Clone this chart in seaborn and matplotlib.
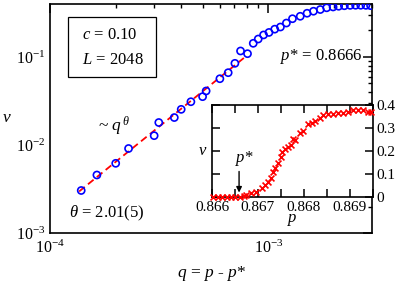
import numpy as np
import pandas as pd
import matplotlib
matplotlib.use("Agg")
import matplotlib.pyplot as plt
import matplotlib.ticker as mticker
from matplotlib.patches import Rectangle
import seaborn as sns

# ---------------- data ----------------
q_main = [1.39e-4, 1.64e-4, 2.00e-4, 2.29e-4, 3.00e-4, 3.15e-4, 3.71e-4, 3.99e-4,
          4.42e-4, 5.00e-4, 5.19e-4, 6.00e-4, 6.55e-4, 7.03e-4, 7.46e-4, 8.03e-4,
          8.53e-4, 8.99e-4, 9.51e-4, 1.007e-3, 1.07e-3, 1.136e-3, 1.21e-3, 1.29e-3,
          1.40e-3, 1.505e-3, 1.61e-3, 1.73e-3, 1.85e-3, 1.98e-3, 2.10e-3, 2.23e-3,
          2.37e-3, 2.51e-3, 2.65e-3, 2.80e-3, 2.94e-3]
v_main = [3.04e-3, 4.56e-3, 6.19e-3, 9.12e-3, 1.276e-2, 1.80e-2, 2.05e-2, 2.54e-2,
          3.10e-2, 3.54e-2, 4.11e-2, 5.66e-2, 6.63e-2, 8.47e-2, 0.117, 0.109,
          0.143, 0.160, 0.178, 0.190, 0.207, 0.219, 0.243, 0.272,
          0.290, 0.314, 0.331, 0.346, 0.362, 0.370, 0.377, 0.382,
          0.386, 0.387, 0.387, 0.386, 0.383]

theta = 2.01
fit_q_range = [1.36e-4, 7.85e-4]
fit_anchor_q = 1.39e-4
fit_anchor_v = 3.1e-3

p_in = [0.86602, 0.86612, 0.86622, 0.86632, 0.86641, 0.86651, 0.86661, 0.86670,
        0.86675, 0.86686, 0.86697, 0.86708, 0.86715, 0.86722, 0.86728, 0.86733,
        0.86737, 0.86743, 0.86750, 0.86753, 0.86759, 0.86766, 0.86773, 0.86777,
        0.86780, 0.86791, 0.86798, 0.86809, 0.86817, 0.86824, 0.86835, 0.86842,
        0.86853, 0.86864, 0.86875, 0.86885, 0.86896, 0.86907, 0.86918, 0.86929,
        0.86940, 0.86947]
v_in = [0, 0, 0, 0, 0, 0, 0, 0.001,
        0.007, 0.015, 0.022, 0.037, 0.051, 0.066, 0.080, 0.109,
        0.124, 0.146, 0.175, 0.197, 0.207, 0.216, 0.226, 0.251,
        0.248, 0.277, 0.288, 0.317, 0.323, 0.332, 0.342, 0.357,
        0.361, 0.361, 0.364, 0.367, 0.371, 0.379, 0.379, 0.376,
        0.371, 0.371]

p_star = 0.8666
inset_xticks = [0.866, 0.867, 0.868, 0.869]
inset_xtick_labels = ["0.866", "0.867", "0.868", "0.869"]
inset_yticks = [0, 0.1, 0.2, 0.3, 0.4]
inset_ytick_labels = ["0", "0.1", "0.2", "0.3", "0.4"]

# ---------------- style ----------------
sns.set_theme(style="white")
plt.rcParams.update({
    "font.family": ["Liberation Serif", "DejaVu Serif"],
    "mathtext.fontset": "custom",
    "mathtext.rm": "Liberation Serif",
    "mathtext.it": "Liberation Serif:italic",
    "mathtext.fallback": "stix",
    "axes.edgecolor": "black",
    "axes.linewidth": 1.2,
    "xtick.direction": "in",
    "ytick.direction": "in",
    "xtick.color": "black",
    "ytick.color": "black",
    "text.color": "black",
    "axes.labelcolor": "black",
})

fig = plt.figure(figsize=(3.98, 2.83), dpi=100)
ax = fig.add_axes([0.1256, 0.1767, 0.8103, 0.8092])

df_main = pd.DataFrame({"q": q_main, "v": v_main})
qf = np.array(fit_q_range)
df_fit = pd.DataFrame({"q": qf, "v": fit_anchor_v * (qf / fit_anchor_q) ** theta})

sns.lineplot(data=df_fit, x="q", y="v", ax=ax, color="red", lw=1.3,
             linestyle=(0, (4.0, 2.3)), zorder=2)
sns.scatterplot(data=df_main, x="q", y="v", ax=ax, marker="o", s=26,
                facecolors="none", edgecolor="blue", linewidth=1.2, zorder=3)

ax.set_xscale("log")
ax.set_yscale("log")
ax.set_xlim(1e-4, 3.0e-3)
ax.set_ylim(1e-3, 0.40)
ax.xaxis.set_major_locator(mticker.LogLocator(base=10, numticks=10))
ax.yaxis.set_major_locator(mticker.LogLocator(base=10, numticks=10))
ax.xaxis.set_minor_locator(mticker.LogLocator(base=10, subs=np.arange(2, 10), numticks=20))
ax.yaxis.set_minor_locator(mticker.LogLocator(base=10, subs=np.arange(2, 10), numticks=20))
ax.xaxis.set_minor_formatter(mticker.NullFormatter())
ax.yaxis.set_minor_formatter(mticker.NullFormatter())
ax.tick_params(which="major", length=6.5, width=1.1, labelsize=11.5, top=True, right=True, pad=3)
ax.tick_params(which="minor", length=3.2, width=1.0, top=True, right=True)
ax.tick_params(axis="x", which="major", pad=5)

ax.set_xlabel(r"$q$ = $p$ - $p$*", fontsize=12.5, labelpad=5)
ax.set_ylabel(r"$v$", fontsize=12.5, rotation=0, labelpad=14, va="center")
ax.yaxis.set_label_coords(-0.133, 0.5)

# legend-like box
ax.add_patch(Rectangle((0.0558, 0.681), 0.273, 0.262, transform=ax.transAxes,
                       fill=False, edgecolor="black", lw=0.9, zorder=4))
ax.text(0.099, 0.865, r"$c$ = 0.10", transform=ax.transAxes, fontsize=12,
        ha="left", va="center")
ax.text(0.099, 0.755, r"$L$ = 2048", transform=ax.transAxes, fontsize=12,
        ha="left", va="center")
ax.text(0.149, 0.445, r"~ $q^{\,\theta}$", transform=ax.transAxes, fontsize=12.5,
        ha="left", va="baseline")
ax.text(0.713, 0.755, r"$p$* = 0.8666", transform=ax.transAxes, fontsize=12,
        ha="left", va="baseline")
ax.text(0.059, 0.07, r"$\theta$ = 2.01(5)", transform=ax.transAxes, fontsize=12,
        ha="left", va="baseline")

# ---------------- inset ----------------
axi = fig.add_axes([0.5327, 0.305, 0.4033, 0.324])
axi.set_facecolor("white")
df_in = pd.DataFrame({"p": p_in, "v": v_in})
sns.scatterplot(data=df_in, x="p", y="v", ax=axi, marker="x", s=18,
                color="red", linewidth=1.2, zorder=3, clip_on=False)
axi.set_xlim(0.866, 0.8695)
axi.set_ylim(0, 0.4)
axi.set_xticks(inset_xticks)
axi.set_xticklabels(inset_xtick_labels)
axi.xaxis.set_minor_locator(mticker.MultipleLocator(0.0005))
axi.set_yticks(inset_yticks)
axi.set_yticklabels(inset_ytick_labels)
axi.tick_params(which="both", top=True, bottom=True, left=True, right=True,
                labelleft=False, labelright=True, labelsize=11)
axi.tick_params(which="major", length=5.5, width=1.1, pad=3)
axi.tick_params(which="minor", length=5.5, width=1.1)
axi.set_xlabel(r"$p$", fontsize=12, labelpad=-1)
axi.set_ylabel(r"$v$", fontsize=12, rotation=0, va="center")
axi.yaxis.set_label_coords(-0.055, 0.5)
axi.annotate("", xy=(0.86659, 0.018), xytext=(0.86659, 0.11),
             arrowprops=dict(arrowstyle="-|>", color="black", lw=1.0,
                             mutation_scale=8, shrinkA=0, shrinkB=0))
axi.text(0.8667, 0.152, r"$p$*", fontsize=12, ha="center", va="baseline")

fig.savefig("out.png", dpi=100)
